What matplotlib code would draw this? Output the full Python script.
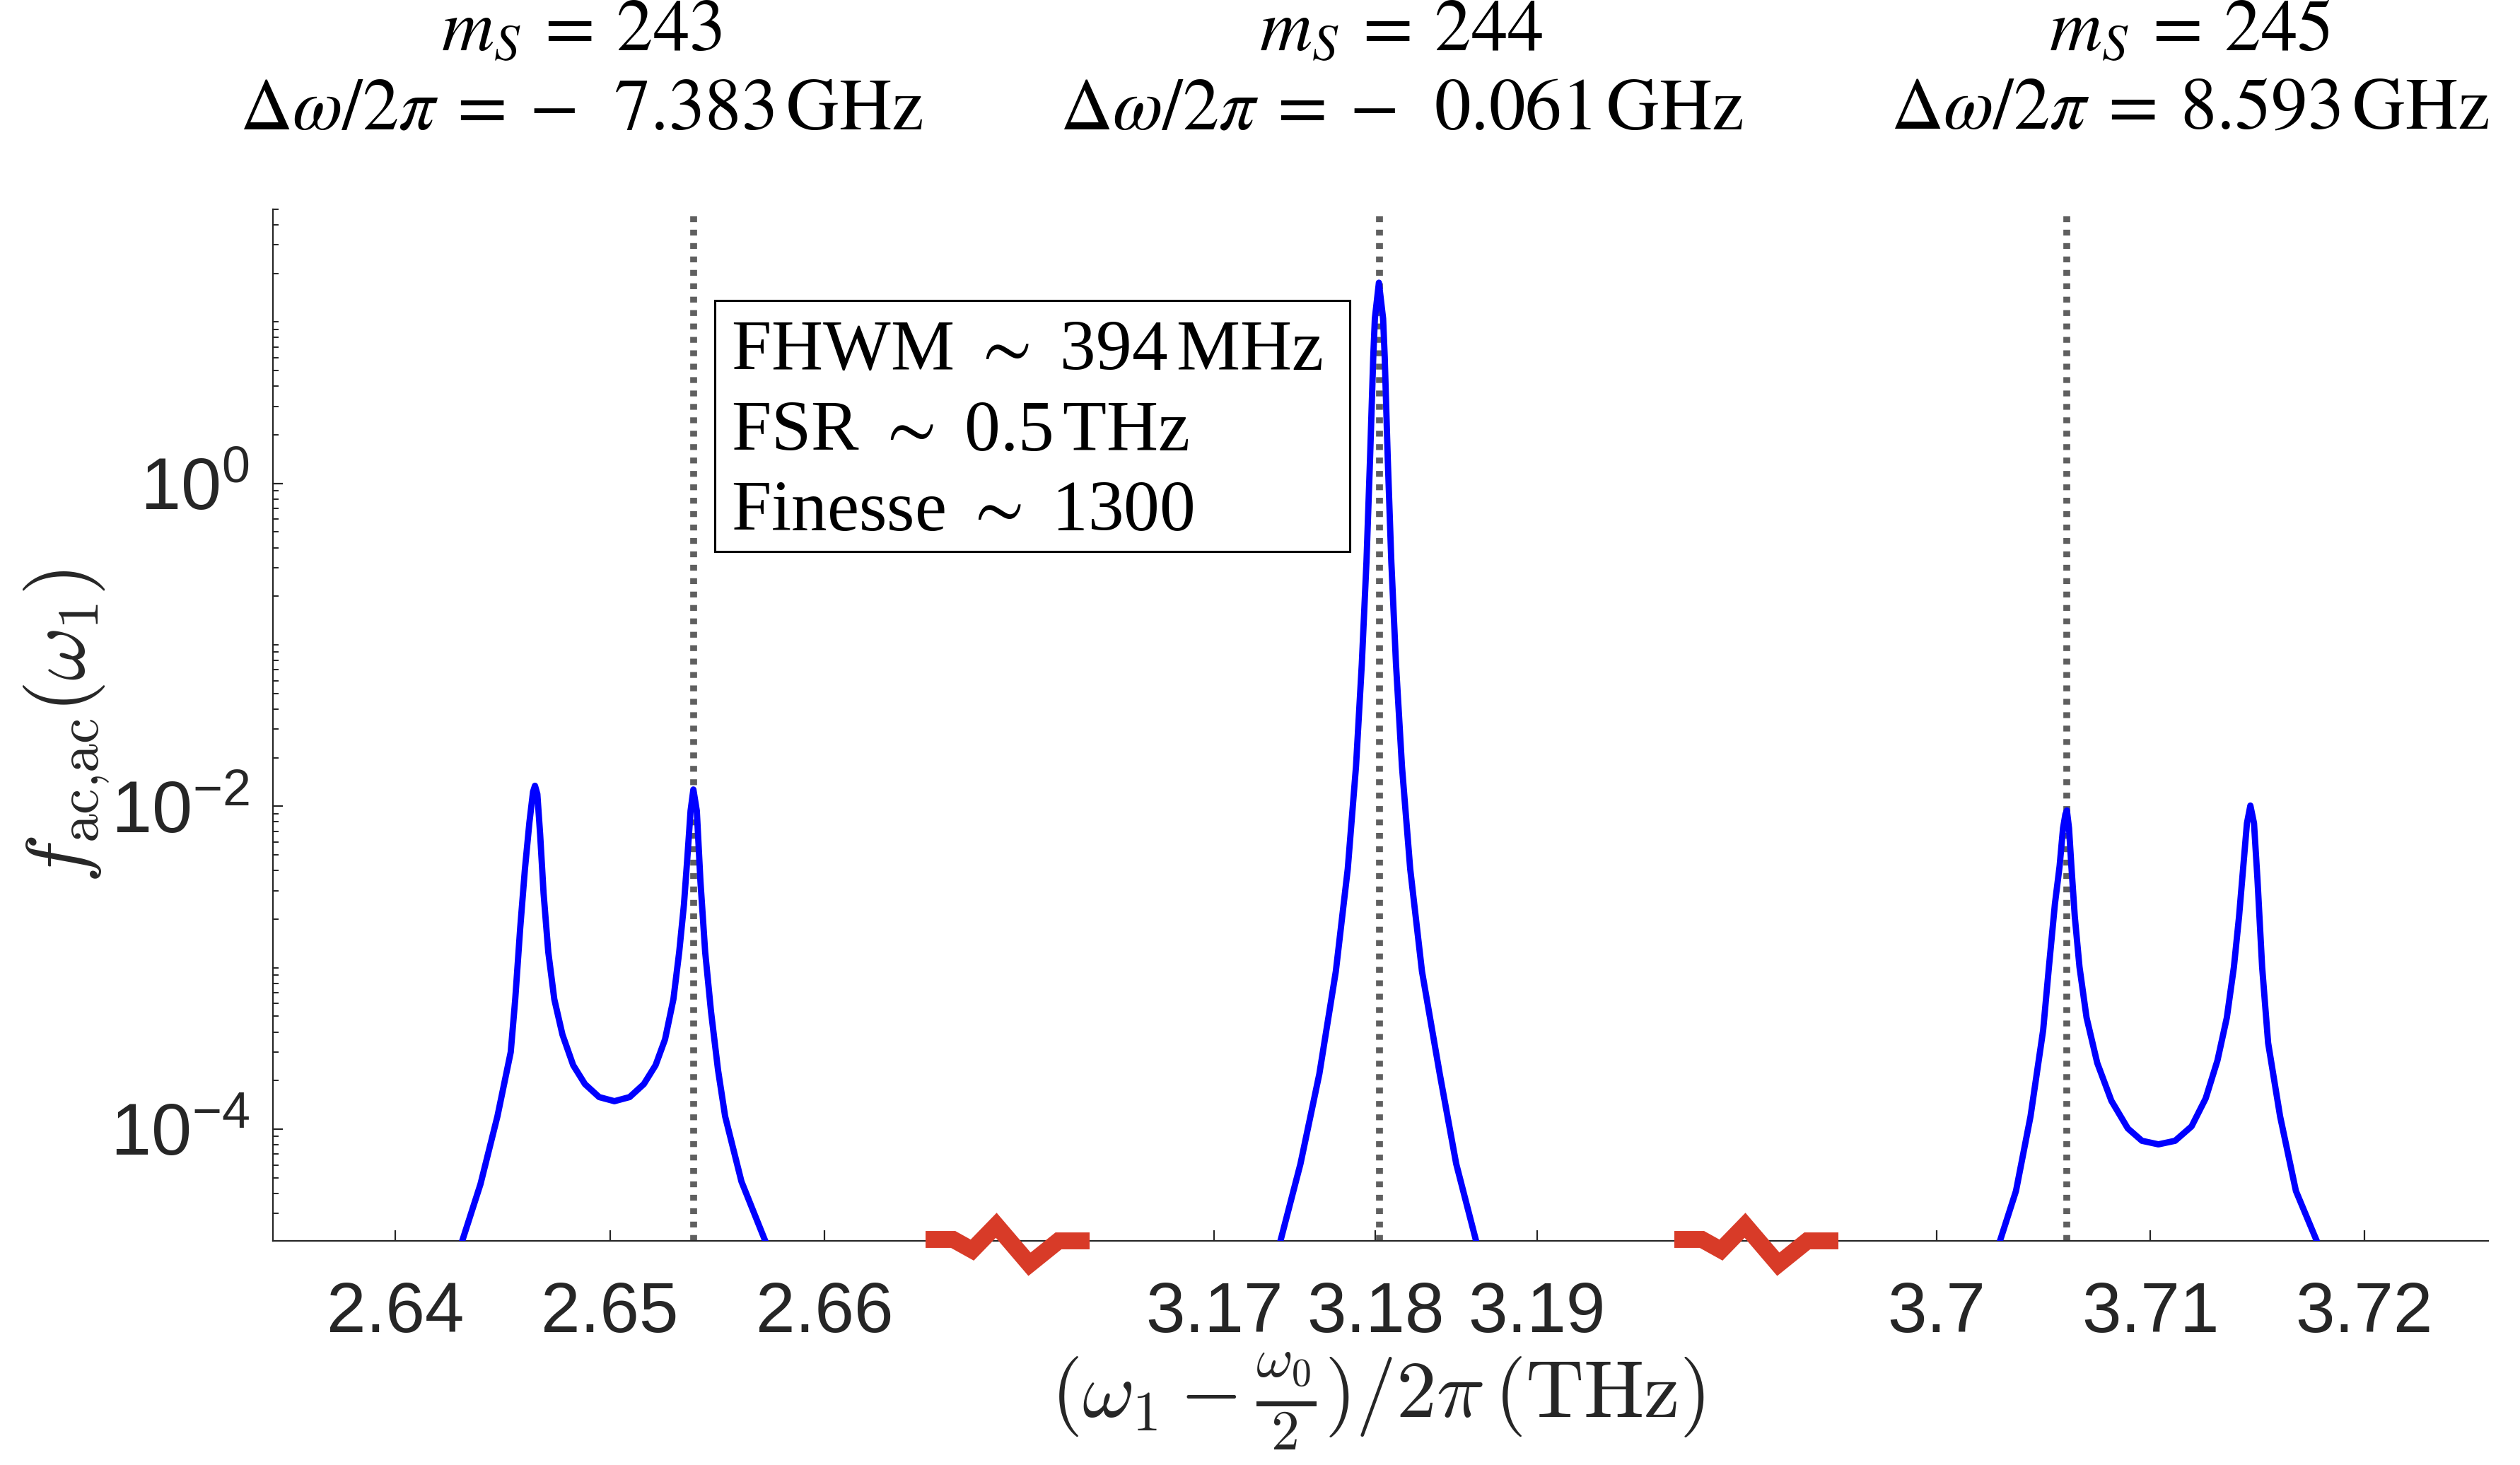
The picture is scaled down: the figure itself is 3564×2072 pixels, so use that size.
import matplotlib.pyplot as plt
from matplotlib.lines import Line2D
from matplotlib.patches import Rectangle
from matplotlib.ticker import FixedLocator, NullFormatter

plt.rcParams['font.family'] = ['Liberation Sans', 'DejaVu Sans']
plt.rcParams['mathtext.fontset'] = 'custom'
plt.rcParams['mathtext.rm'] = 'Liberation Sans'
plt.rcParams['mathtext.it'] = 'Liberation Sans:italic'
plt.rcParams['mathtext.bf'] = 'Liberation Sans:bold'
plt.rcParams['axes.unicode_minus'] = False

# ---- data ----
# mode m_S = 243
x_243 = [2.64287, 2.64397, 2.64476, 2.64538, 2.64559, 2.64582, 2.64604, 2.64625, 2.64642,
         2.64651, 2.64662, 2.64675, 2.64691, 2.64713, 2.64741, 2.64779, 2.64829, 2.64884,
         2.64950, 2.65021, 2.65092, 2.65158, 2.65213, 2.65257, 2.65296, 2.65323, 2.65345,
         2.65361, 2.65376, 2.65389, 2.65405, 2.65422, 2.65444, 2.65471, 2.65504, 2.65537,
         2.65613, 2.65755]
f_243 = [1.6e-5, 4.56e-5, 1.20e-4, 3.00e-4, 6.38e-4, 1.75e-3, 4.06e-3, 7.94e-3, 1.23e-2,
         1.34e-2, 1.19e-2, 6.71e-3, 2.90e-3, 1.25e-3, 6.38e-4, 3.85e-4, 2.49e-4, 1.90e-4,
         1.58e-4, 1.49e-4, 1.58e-4, 1.90e-4, 2.49e-4, 3.60e-4, 6.38e-4, 1.25e-3, 2.45e-3,
         4.80e-3, 9.38e-3, 1.27e-2, 9.38e-3, 3.42e-3, 1.25e-3, 5.38e-4, 2.32e-4, 1.20e-4,
         4.74e-5, 1.6e-5]

# mode m_S = 244
x_244 = [3.17384, 3.17535, 3.17652, 3.17754, 3.17828, 3.17879, 3.17915, 3.17944, 3.17966,
         3.17986, 3.17996, 3.18021, 3.18047, 3.18057, 3.18076, 3.18098, 3.18127, 3.18164,
         3.18215, 3.18288, 3.18398, 3.18500, 3.18650]
f_244 = [1.6e-5, 6.10e-5, 2.20e-4, 9.48e-4, 4.09e-3, 1.76e-2, 7.58e-2, 0.327, 1.41,
         6.07, 10.5, 17.5, 10.5, 6.07, 1.41, 0.327, 7.58e-2, 1.76e-2,
         4.09e-3, 9.48e-4, 2.20e-4, 6.10e-5, 1.6e-5]

# mode m_S = 245
x_245 = [3.70271, 3.70371, 3.70439, 3.70498, 3.70525, 3.70553, 3.70575, 3.70591, 3.70602,
         3.70609, 3.70619, 3.70630, 3.70646, 3.70668, 3.70701, 3.70751, 3.70817, 3.70894,
         3.70960, 3.71037, 3.71115, 3.71192, 3.71258, 3.71313, 3.71357, 3.71390, 3.71414,
         3.71434, 3.71451, 3.71467, 3.71484, 3.71500, 3.71522, 3.71550, 3.71606, 3.71680,
         3.71810]
f_245 = [1.6e-5, 4.14e-5, 1.20e-4, 4.10e-4, 1.01e-3, 2.48e-3, 4.26e-3, 7.31e-3, 8.91e-3,
         9.42e-3, 7.31e-3, 4.26e-3, 2.07e-3, 1.01e-3, 4.91e-4, 2.57e-4, 1.50e-4, 1.01e-4,
         8.47e-5, 8.05e-5, 8.47e-5, 1.04e-4, 1.55e-4, 2.66e-4, 4.91e-4, 1.01e-3, 2.07e-3,
         4.26e-3, 7.85e-3, 1.01e-2, 7.85e-3, 3.56e-3, 1.01e-3, 3.42e-4, 1.20e-4, 4.14e-5,
         1.6e-5]

res_x = [2.65389, 3.18025, 3.70610]       # dotted lines (cavity resonances)
xlims = [(2.6343, 2.66853), (3.1572, 3.2036), (3.69157, 3.72579)]
xticks = [[2.64, 2.65, 2.66], [3.17, 3.18, 3.19], [3.70, 3.71, 3.72]]
xticklabels = [['2.64', '2.65', '2.66'], ['3.17', '3.18', '3.19'], ['3.7', '3.71', '3.72']]
ylim = (10 ** -4.692, 10 ** 1.70)
ymajor = [1e-4, 1e-2, 1e0]

titles_m = [r'$m_S\:=\:243$', r'$m_S\:=\:244$', r'$m_S\:=\:245$']
titles_d = [r'$\Delta\omega/2\pi\:=\:-\ \ 7.383\,\mathrm{GHz}$',
            r'$\Delta\omega/2\pi\:=\:-\ \ 0.061\,\mathrm{GHz}$',
            r'$\Delta\omega/2\pi\:=\:8.593\,\mathrm{GHz}$']
box_lines = [r'FHWM $\sim$ 394$\,$MHz', r'FSR $\sim$ 0.5$\,$THz', r'Finesse $\sim$ 1300']

xs = [x_243, x_244, x_245]
fs = [f_243, f_244, f_245]

# ---- figure ----
W, H = 3564, 2072
fig = plt.figure(figsize=(W / 200, H / 200), dpi=200)

edges = [386, 1425, 2484, 3519]
bottom, top = 1755, 295.5
axes = []
for i in range(3):
    ax = fig.add_axes([edges[i] / W, 1 - bottom / H, (edges[i + 1] - edges[i]) / W, (bottom - top) / H])
    axes.append(ax)

dark = '#262626'
yminor = [k * 10.0 ** e for e in range(-5, 2) for k in range(1, 10) if k * 10.0 ** e not in ymajor]

for i, ax in enumerate(axes):
    ax.plot(xs[i], fs[i], color=(0, 0, 1), lw=3.2, zorder=3)
    ax.axvline(res_x[i], color='#5f5f5f', lw=3.5, linestyle=(0, (0.85, 1.1)),
               dash_capstyle='butt', zorder=2)
    ax.set_yscale('log')
    ax.set_xlim(*xlims[i])
    ax.set_ylim(*ylim)
    ax.set_xticks(xticks[i])
    ax.set_xticklabels(xticklabels[i])
    ax.patch.set_alpha(0)
    for s in ['top', 'right']:
        ax.spines[s].set_visible(False)
    ax.spines['bottom'].set_color(dark)
    ax.spines['bottom'].set_linewidth(0.8)
    ax.tick_params(axis='x', direction='in', length=5.4, width=0.8, colors=dark,
                   labelsize=36, pad=20)
    if i == 0:
        ax.spines['left'].set_color(dark)
        ax.spines['left'].set_linewidth(0.8)
        ax.yaxis.set_major_locator(FixedLocator(ymajor))
        ax.yaxis.set_minor_locator(FixedLocator(yminor))
        ax.yaxis.set_minor_formatter(NullFormatter())
        ax.tick_params(axis='y', which='major', direction='in', length=5.0, width=0.8,
                       colors=dark, labelsize=37, pad=12)
        ax.tick_params(axis='y', which='minor', direction='in', length=2.8, width=0.7, colors=dark)
    else:
        ax.spines['left'].set_visible(False)
        ax.tick_params(axis='y', which='both', left=False, labelleft=False)

# axis break marks (red zigzags) at the joins
zig_dx = [-116, -77, -50, -16, 31, 72, 116]
zig_dy = [2, 2, -13, 22, -33, 0, 0]
for e in edges[1:3]:
    fig.add_artist(Line2D([(e + dx) / W for dx in zig_dx],
                          [1 - (bottom - dy) / H for dy in zig_dy],
                          transform=fig.transFigure, color='#D83B28', lw=8.6,
                          solid_joinstyle='miter', solid_capstyle='butt', zorder=10))

# titles above each group
title_x = [822, 1982, 3097]
for i in range(3):
    fig.text(title_x[i] / W, 1 - 72 / H, titles_m[i], fontfamily='Liberation Serif',
             math_fontfamily='stix', fontsize=37, ha='center', va='baseline')
    fig.text(title_x[i] / W, 1 - 182 / H, titles_d[i], fontfamily='Liberation Serif',
             math_fontfamily='stix', fontsize=37, ha='center', va='baseline')

# info box
fig.add_artist(Rectangle((1011 / W, 1 - 780 / H), (1909 - 1011) / W, (780 - 425) / H,
                         transform=fig.transFigure, fill=False, edgecolor='black', lw=1.1, zorder=5))
for j, t in enumerate(box_lines):
    fig.text(1034 / W, 1 - (523 + 113.5 * j) / H, t, fontfamily='Liberation Serif',
             math_fontfamily='stix', fontsize=36.5, ha='left', va='baseline', zorder=6)

# axis labels
fig.text(1948 / W, 1 - 1982 / H, r'$(\omega_1 - \frac{\omega_0}{2})/2\pi\,(\mathrm{THz})$',
         math_fontfamily='cm', fontsize=41, color=dark, ha='center', va='center')
fig.text(95 / W, 1 - 1027 / H, r'$f_{\mathrm{ac{,}ac}}(\omega_1)$', math_fontfamily='cm',
         fontsize=42, color=dark, rotation=90, ha='center', va='center')

fig.savefig('out.png', dpi=200)
